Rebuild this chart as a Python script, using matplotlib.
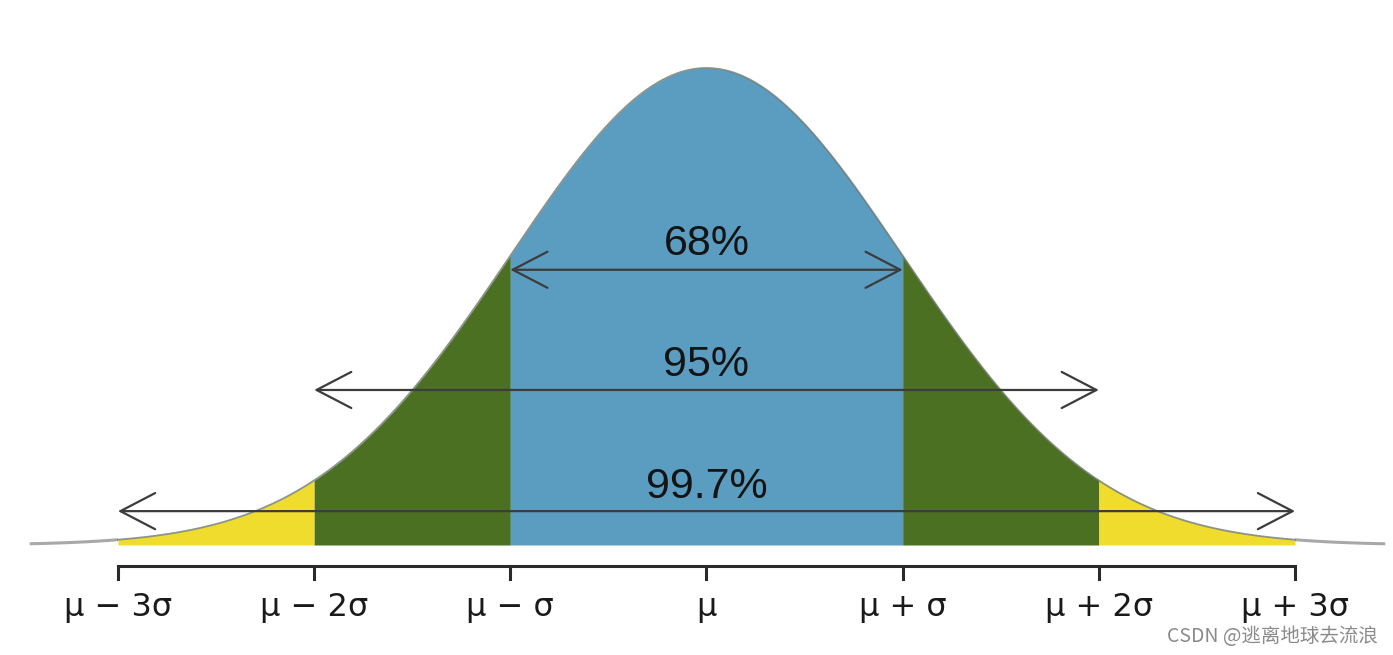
import numpy as np
import matplotlib.pyplot as plt

# sigma boundaries of the shaded bands and their colours
band_edges = [-3, -2, -1, 1, 2, 3]
band_colors = ["#f0dc2c", "#4b7021", "#5b9dc0", "#4b7021", "#f0dc2c"]

# interval arrows: half-width in sigma, arrow height, label height, text
arrow_half = [1, 2, 3]
arrow_y = [0.577, 0.325, 0.071]
label_y = [0.630, 0.378, 0.122]
arrow_text = ["68%", "95%", "99.7%"]

tick_pos = [-3, -2, -1, 0, 1, 2, 3]
tick_labels = ["μ − 3σ", "μ − 2σ", "μ − σ", "μ", "μ + σ", "μ + 2σ", "μ + 3σ"]

tail_range = (-3.45, 3.46)


def density(x):
    # normal curve scaled so the peak is 1
    return np.exp(-0.5 * x ** 2)


fig = plt.figure(figsize=(13.93, 6.55), dpi=100)
ax = fig.add_axes([0, 0, 1, 1])

# pixel mapping: mu at 706.5 px, sigma = 196.17 px, baseline 545 px, peak 68 px
ax.set_xlim(-706.5 / 196.17, (1393 - 706.5) / 196.17)
ax.set_ylim(-(655 - 545) / 477, 545 / 477)
ax.axis("off")

# gray tails beyond 3 sigma
for a, b in [(tail_range[0], -3), (3, tail_range[1])]:
    xs = np.linspace(a, b, 50)
    ax.plot(xs, density(xs), color="#a8a8a8", lw=2.2, solid_capstyle="butt")

for i, c in enumerate(band_colors):
    xs = np.linspace(band_edges[i], band_edges[i + 1], 200)
    ax.fill_between(xs, 0, density(xs), color=c, lw=0)

xs = np.linspace(-3, 3, 600)
ax.plot(xs, density(xs), color="#6f7a70", lw=1.3, alpha=0.8)

for h, ay, ly, t in zip(arrow_half, arrow_y, label_y, arrow_text):
    ax.annotate("", xy=(-h, ay), xytext=(h, ay),
                arrowprops=dict(arrowstyle="<->,head_length=1.25,head_width=0.65",
                                mutation_scale=20, color="#3c3c3c", lw=1.6,
                                shrinkA=0, shrinkB=0))
    ax.text(0, ly, t, ha="center", va="center", fontsize=31,
            family="Liberation Sans", color="#141414")

# bottom axis with downward ticks
axis_y = -0.044
ax.plot([-3, 3], [axis_y, axis_y], color="#2a2a2a", lw=2.2, solid_capstyle="butt")
for p, lab in zip(tick_pos, tick_labels):
    ax.plot([p, p], [axis_y, axis_y - 0.027], color="#2a2a2a", lw=2.2)
    ax.text(p, -0.13, lab, ha="center", va="center", fontsize=23,
            family="DejaVu Sans", color="#1a1a1a")

fig.text(0.989, 0.028, "CSDN @逃离地球去流浪", ha="right", va="center",
         fontsize=14, color="#8a8a8a", family=["Noto Sans CJK SC", "DejaVu Sans"])

fig.savefig("out.png", dpi=100)
